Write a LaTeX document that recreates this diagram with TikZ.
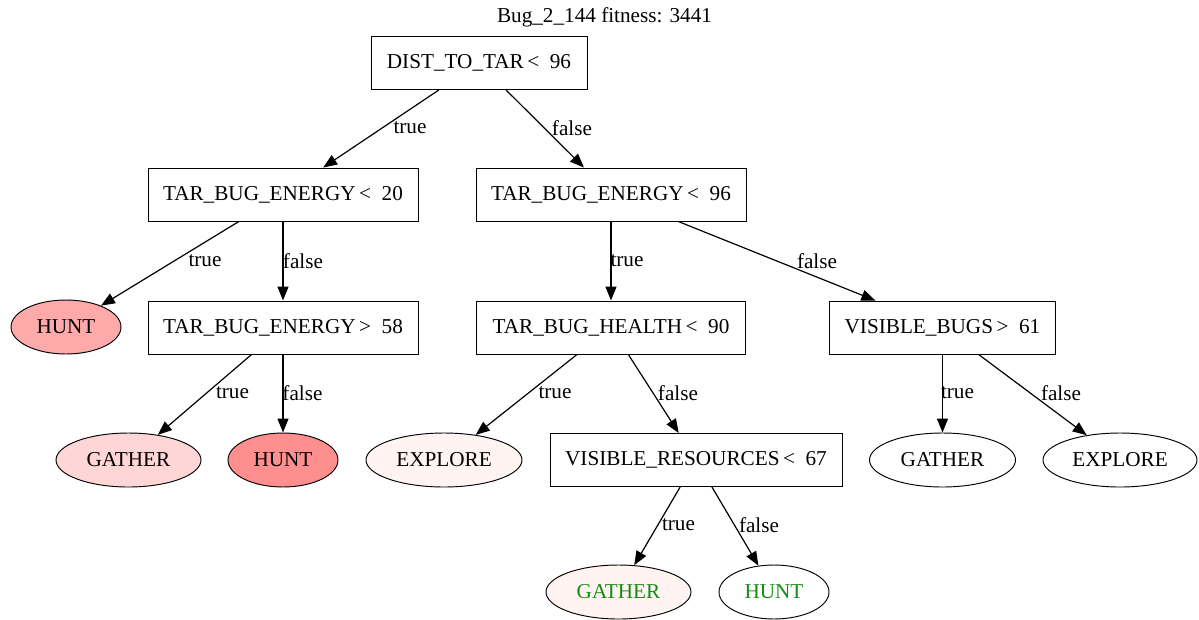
\documentclass[tikz,border=0pt]{standalone}
\usepackage{fontspec}
\setmainfont{Liberation Serif}
\usetikzlibrary{arrows.meta,shapes.geometric}
\definecolor{huntA}{RGB}{255,170,170}
\definecolor{huntB}{RGB}{255,142,142}
\definecolor{gatherA}{RGB}{255,214,214}
\definecolor{paleA}{RGB}{255,244,242}
\definecolor{leafgreen}{RGB}{20,140,20}
\begin{document}
\begin{tikzpicture}[x=1pt,y=-1pt,
  every node/.style={font=\fontsize{21.2}{25}\selectfont, inner sep=0pt},
  test/.style={draw, rectangle, line width=0.95pt, minimum height=53pt},
  leaf/.style={draw, ellipse, line width=0.95pt, minimum height=54pt},
  edge/.style={line width=1.2pt, -{Triangle[length=14pt,width=11pt]}},
  lbl/.style={fill=none}
]
\useasboundingbox (0,0) rectangle (1199,619);

% title
\node (title) at (604.5,17) {Bug\_2\_144 fitness: 3441};

% decision nodes
\node[test, minimum width=216pt] (n0)  at (479,63)    {DIST\_TO\_TAR\,<\ \ 96};
\node[test, minimum width=270pt] (n1)  at (283,194.5) {TAR\_BUG\_ENERGY\,<\ \ 20};
\node[test, minimum width=270pt] (n2)  at (611,194.5) {TAR\_BUG\_ENERGY\,<\ \ 96};
\node[test, minimum width=270pt] (n4)  at (283,327.5) {TAR\_BUG\_ENERGY\,>\ \ 58};
\node[test, minimum width=269pt] (n5)  at (611,327.5) {TAR\_BUG\_HEALTH\,<\ \ 90};
\node[test, minimum width=226pt] (n6)  at (942.5,327.5) {VISIBLE\_BUGS\,>\ \ 61};
\node[test, minimum width=292pt] (n10) at (696,460)   {VISIBLE\_RESOURCES\,<\ \ 67};

% action leaves
\node[leaf, fill=huntA,   minimum width=110pt] (n3)  at (66,327)    {HUNT};
\node[leaf, fill=gatherA, minimum width=145pt] (n7)  at (128.5,460) {GATHER};
\node[leaf, fill=huntB,   minimum width=110pt] (n8)  at (283,460)   {HUNT};
\node[leaf, fill=paleA,   minimum width=156pt] (n9)  at (444,460)   {EXPLORE};
\node[leaf,               minimum width=146pt] (n11) at (942.5,460) {GATHER};
\node[leaf,               minimum width=154pt] (n12) at (1120,460)  {EXPLORE};
\node[leaf, fill=paleA, text=leafgreen, minimum width=145pt] (n13) at (618.5,592) {GATHER};
\node[leaf, text=leafgreen, minimum width=110pt] (n14) at (774,592) {HUNT};

% branches
\draw[edge] (n0) -- (n1);
\draw[edge] (n0) -- (n2);
\draw[edge] (n1) -- (n3);
\draw[edge] (n1) -- (n4);
\draw[edge] (n2) -- (n5);
\draw[edge] (n2) -- (n6);
\draw[edge] (n4) -- (n7);
\draw[edge] (n4) -- (n8);
\draw[edge] (n5) -- (n9);
\draw[edge] (n5) -- (n10);
\draw[edge] (n6) -- (n11);
\draw[edge] (n6) -- (n12);
\draw[edge] (n10) -- (n13);
\draw[edge] (n10) -- (n14);

% branch labels
\node[lbl] (l01)  at (410,128)  {true};
\node[lbl] (l02)  at (572,128)  {false};
\node[lbl] (l13)  at (205,261)  {true};
\node[lbl] (l14)  at (303,261)  {false};
\node[lbl] (l25)  at (627,261)  {true};
\node[lbl] (l26)  at (817,261)  {false};
\node[lbl] (l47)  at (232.5,393) {true};
\node[lbl] (l48)  at (302.5,393) {false};
\node[lbl] (l59)  at (555,393)  {true};
\node[lbl] (l510) at (678,393)  {false};
\node[lbl] (l611) at (957.5,393) {true};
\node[lbl] (l612) at (1061,393) {false};
\node[lbl] (l1013) at (678.5,525) {true};
\node[lbl] (l1014) at (759,525) {false};
\end{tikzpicture}
\end{document}
